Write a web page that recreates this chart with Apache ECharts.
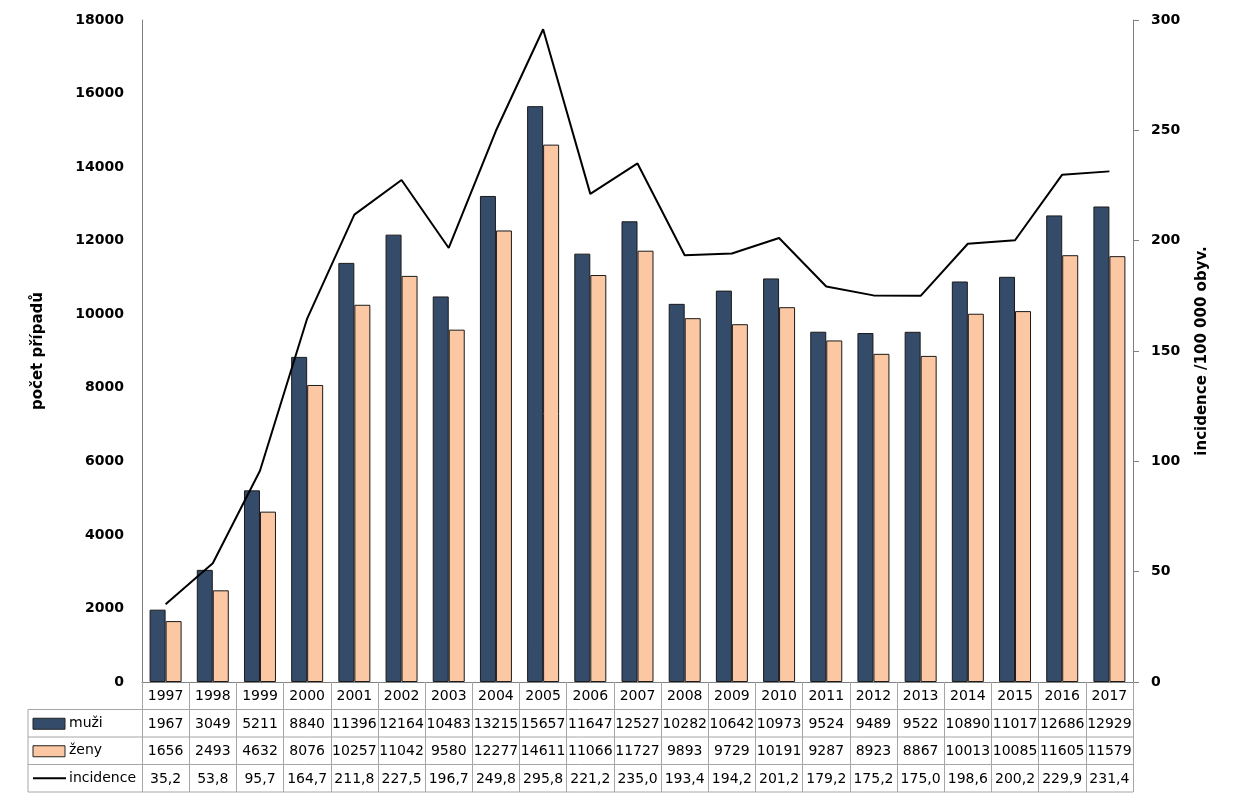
<!DOCTYPE html>
<html>
<head>
<meta charset="utf-8">
<script src="https://cdn.jsdelivr.net/npm/echarts@6/dist/echarts.min.js"></script>
<style>
html,body{margin:0;padding:0;background:#fff;}
#graf{width:1233px;height:800px;}
</style>
</head>
<body>
<div id="graf"></div>
<script>
// data
var roky = ['1997','1998','1999','2000','2001','2002','2003','2004','2005','2006','2007','2008','2009','2010','2011','2012','2013','2014','2015','2016','2017'];
var muzi = [1967,3049,5211,8840,11396,12164,10483,13215,15657,11647,12527,10282,10642,10973,9524,9489,9522,10890,11017,12686,12929];
var zeny = [1656,2493,4632,8076,10257,11042,9580,12277,14611,11066,11727,9893,9729,10191,9287,8923,8867,10013,10085,11605,11579];
var incidence = [35.2,53.8,95.7,164.7,211.8,227.5,196.7,249.8,295.8,221.2,235.0,193.4,194.2,201.2,179.2,175.2,175.0,198.6,200.2,229.9,231.4];

var barvaMuzi = '#344b6a';
var barvaZeny = '#fcc7a3';
var cara = '#a6a6a6';

// rozmery grafu a tabulky
var gLeft = 142, gRight = 100, gTop = 20, gBottom = 118;
var tabLeft = 28;
var radek = 27.5;
var osaY = 800 - gBottom;
var osaPrava = 1233 - gRight;

function cislo(v){
	return v.toFixed(1).replace('.', ',');
}

var tabulka = [];
// vodorovne cary tabulky
for (var i = 1; i <= 4; i++) {
	tabulka.push({
		type: 'line',
		shape: {x1: tabLeft, y1: osaY + radek * i, x2: osaPrava, y2: osaY + radek * i},
		style: {stroke: cara, lineWidth: 1}
	});
}
tabulka.push({
	type: 'line',
	shape: {x1: tabLeft, y1: osaY + radek, x2: tabLeft, y2: osaY + radek * 4},
	style: {stroke: cara, lineWidth: 1}
});
// legenda v tabulce
tabulka.push({type: 'rect', shape: {x: 33, y: osaY + radek * 1.5 - 5, width: 32, height: 11},
	style: {fill: barvaMuzi, stroke: '#222', lineWidth: 1}});
tabulka.push({type: 'rect', shape: {x: 33, y: osaY + radek * 2.5 - 5, width: 32, height: 11},
	style: {fill: barvaZeny, stroke: '#222', lineWidth: 1}});
tabulka.push({type: 'line', shape: {x1: 33, y1: osaY + radek * 3.5, x2: 66, y2: osaY + radek * 3.5},
	style: {stroke: '#000', lineWidth: 2}});
var nazvy = ['muži', 'ženy', 'incidence'];
for (var j = 0; j < nazvy.length; j++) {
	tabulka.push({
		type: 'text',
		x: 69, y: osaY + radek * (j + 1.5),
		style: {text: nazvy[j], fill: '#000', font: '14px "DejaVu Sans"', verticalAlign: 'middle', align: 'left'}
	});
}

var myChar = echarts.init(document.getElementById('graf'));
var option = {
	backgroundColor: '#fff',
	animation: false,
	grid: {
		left: gLeft,
		right: gRight,
		top: gTop,
		bottom: gBottom
	},
	xAxis: {
		type: 'category',
		data: roky,
		axisLine: {lineStyle: {color: '#808080', width: 1}},
		axisTick: {
			show: true,
			length: radek * 4,
			lineStyle: {color: cara, width: 1}
		},
		axisLabel: {
			margin: 1,
			interval: 0,
			formatter: function(v, idx){
				return v + '\n' + muzi[idx] + '\n' + zeny[idx] + '\n' + cislo(incidence[idx]);
			},
			lineHeight: radek,
			fontSize: 14,
			fontFamily: 'DejaVu Sans',
			color: '#000',
			verticalAlign: 'top'
		}
	},
	yAxis: [
		{
			type: 'value',
			min: 0,
			max: 18000,
			interval: 2000,
			name: 'počet případů',
			nameLocation: 'middle',
			nameGap: 96,
			nameTextStyle: {fontSize: 15, fontWeight: 'bold', fontFamily: 'DejaVu Sans', color: '#000'},
			axisLine: {show: true, lineStyle: {color: '#808080'}},
			axisTick: {show: false},
			splitLine: {show: false},
			axisLabel: {
				margin: 18, fontSize: 14, fontWeight: 'bold', fontFamily: 'DejaVu Sans', color: '#000',
				formatter: function(v){ return String(v); }
			}
		},
		{
			type: 'value',
			min: 0,
			max: 300,
			interval: 50,
			name: 'incidence /100 000 obyv.',
			nameLocation: 'middle',
			nameGap: 62,
			nameTextStyle: {fontSize: 15, fontWeight: 'bold', fontFamily: 'DejaVu Sans', color: '#000'},
			axisLine: {show: true, lineStyle: {color: '#808080'}},
			axisTick: {show: true, length: 6, lineStyle: {color: '#808080'}},
			splitLine: {show: false},
			axisLabel: {margin: 18, fontSize: 14, fontWeight: 'bold', fontFamily: 'DejaVu Sans', color: '#000'}
		}
	],
	series: [
		{
			name: 'muži',
			type: 'bar',
			data: muzi,
			barWidth: 16,
			barGap: '0%',
			itemStyle: {color: barvaMuzi, borderColor: '#1a1a1a', borderWidth: 1}
		},
		{
			name: 'ženy',
			type: 'bar',
			data: zeny,
			barWidth: 16,
			itemStyle: {color: barvaZeny, borderColor: '#1a1a1a', borderWidth: 1}
		},
		{
			name: 'incidence',
			type: 'line',
			yAxisIndex: 1,
			data: incidence,
			showSymbol: false,
			symbol: 'none',
			lineStyle: {color: '#000', width: 2},
			z: 5
		}
	],
	graphic: tabulka
};
myChar.setOption(option);
</script>
</body>
</html>
